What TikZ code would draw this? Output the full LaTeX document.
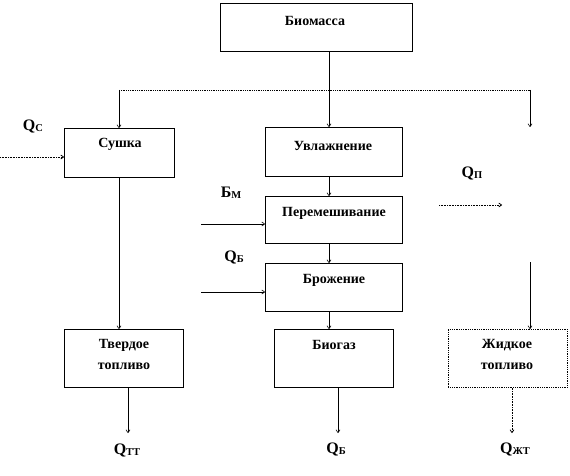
\documentclass[tikz,border=0pt]{standalone}
\usepackage{fontspec}
\setmainfont{Liberation Serif}
\usetikzlibrary{arrows.meta}
\tikzset{
  box/.style={draw, line width=0.8pt, inner sep=0pt, anchor=north west},
  txt/.style={font=\fontsize{14}{16}\selectfont\bfseries, inner sep=0pt},
  lbl/.style={font=\fontsize{16}{18}\selectfont\bfseries, inner sep=0pt},
  arr/.style={-{To[length=3.5pt,width=4.5pt]}, line width=0.6pt},
  ln/.style={line width=0.6pt},
  dot/.style={densely dotted, line width=0.8pt}
}
\newcommand{\sbs}[1]{\raisebox{-1pt}{\fontsize{10.5}{10.5}\selectfont #1}}
\begin{document}
\begin{tikzpicture}[x=1pt,y=-1pt]
\useasboundingbox (0,0) rectangle (570,476);
% boxes
\node[box, minimum width=192pt, minimum height=48pt] (bio) at (220,3) {};
\node[box, minimum width=110pt, minimum height=49pt] (sush) at (64,128) {};
\node[box, minimum width=137pt, minimum height=49pt] (uvl) at (265,127) {};
\node[box, minimum width=137pt, minimum height=47pt] (per) at (265,196) {};
\node[box, minimum width=137pt, minimum height=48pt] (bro) at (265,263) {};
\node[box, minimum width=119pt, minimum height=58pt] (bgs) at (274,329) {};
\node[box, minimum width=119pt, minimum height=58pt] (tv) at (64,329) {};
\node[box, minimum width=119pt, minimum height=58pt, densely dotted] (zh) at (448,329) {};
% texts
\node[txt] (tbio) at (315,21) {Биомасса};
\node[txt] (tsush) at (120,144) {Сушка};
\node[txt] (tuvl) at (333,146) {Увлажнение};
\node[txt] (tper) at (334,213) {Перемешивание};
\node[txt] (tbro) at (334,280) {Брожение};
\node[txt] (tbgs) at (334,345) {Биогаз};
\node[txt] (ttv1) at (124,345) {Твердое};
\node[txt] (ttv2) at (124,366) {топливо};
\node[txt] (tzh1) at (507,345) {Жидкое};
\node[txt] (tzh2) at (507,366) {топливо};
% labels
\node[lbl] (qc) at (33,127) {Q\sbs{С}};
\node[lbl] (bm) at (231,193) {Б\sbs{М}};
\node[lbl] (qb1) at (234,257) {Q\sbs{Б}};
\node[lbl] (qp) at (472,173) {Q\sbs{П}};
\node[lbl] (qtt) at (127,450) {Q\sbs{ТТ}};
\node[lbl] (qb2) at (336,449) {Q\sbs{Б}};
\node[lbl] (qzh) at (515,449) {Q\sbs{ЖТ}};
% coordinates
\coordinate (jl) at (119,90);
\coordinate (jr) at (530,90);
\coordinate (rend) at (530,127);
\coordinate (qcs) at (0,157);
\coordinate (bms) at (201,224);
\coordinate (qbs) at (201,292);
\coordinate (qps) at (439,205);
\coordinate (qpe) at (502,205);
\coordinate (rs) at (530,262);
\coordinate (tve) at (128,433);
\coordinate (bge) at (338,433);
\coordinate (zhe) at (512,433);
% connectors
\draw[arr] (bio.south -| 329,0) -- (uvl.north -| 329,0);
\draw[dot] (jl) -- (jr);
\draw[arr] (jl) -- (sush.north -| jl);
\draw[arr] (jr) -- (rend);
\draw[arr, dot] (qcs) -- (sush.west |- qcs);
\draw[arr] (uvl.south -| 329,0) -- (per.north -| 329,0);
\draw[arr] (bms) -- (per.west |- bms);
\draw[arr] (per.south -| 329,0) -- (bro.north -| 329,0);
\draw[arr] (qbs) -- (bro.west |- qbs);
\draw[arr] (bro.south -| 329,0) -- (bgs.north -| 329,0);
\draw[arr] (sush.south -| jl) -- (tv.north -| jl);
\draw[arr, dot] (qps) -- (qpe);
\draw[arr] (rs) -- (zh.north -| rs);
\draw[arr] (tv.south -| tve) -- (tve);
\draw[arr] (bgs.south -| bge) -- (bge);
\draw[arr, dot] (zh.south -| zhe) -- (zhe);
\end{tikzpicture}
\end{document}
